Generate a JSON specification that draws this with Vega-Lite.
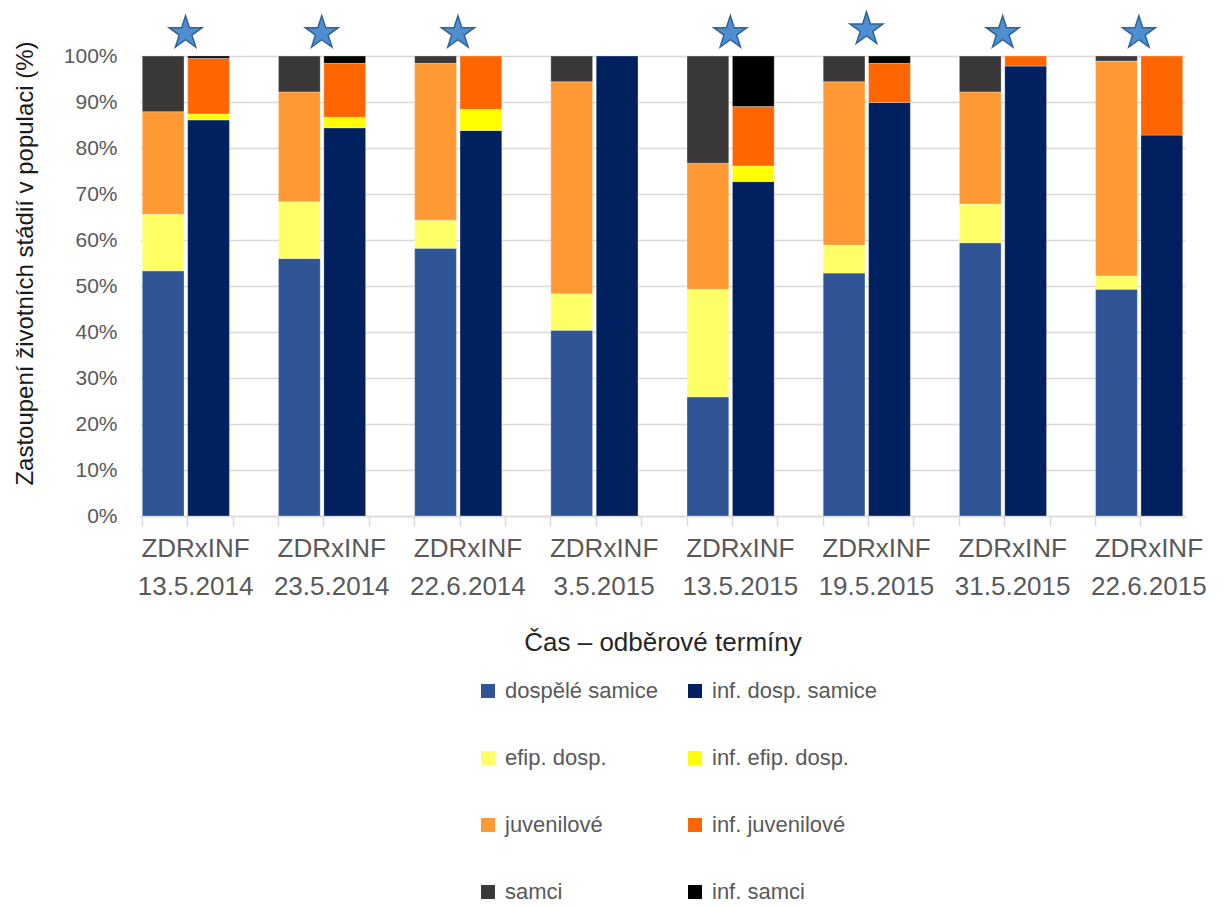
{
  "$schema": "https://vega.github.io/schema/vega-lite/v6.json",
  "width": 1045,
  "height": 460,
  "autosize": "none",
  "padding": {"left": 140, "top": 56, "right": 38, "bottom": 391},
  "background": "white",
  "config": {"view": {"stroke": null}, "font": "Liberation Sans"},
  "layer": [
    {
      "data": {"values": [
        {"slot": "13.5.2014|ZDR", "stadium": "dospělé samice", "podil": 53.3},
        {"slot": "13.5.2014|ZDR", "stadium": "efip. dosp.", "podil": 12.3},
        {"slot": "13.5.2014|ZDR", "stadium": "juvenilové", "podil": 22.3},
        {"slot": "13.5.2014|ZDR", "stadium": "samci", "podil": 12.1},
        {"slot": "13.5.2014|INF", "stadium": "inf. dosp. samice", "podil": 86.1},
        {"slot": "13.5.2014|INF", "stadium": "inf. efip. dosp.", "podil": 1.3},
        {"slot": "13.5.2014|INF", "stadium": "inf. juvenilové", "podil": 12.1},
        {"slot": "13.5.2014|INF", "stadium": "inf. samci", "podil": 0.5},
        {"slot": "23.5.2014|ZDR", "stadium": "dospělé samice", "podil": 56.0},
        {"slot": "23.5.2014|ZDR", "stadium": "efip. dosp.", "podil": 12.3},
        {"slot": "23.5.2014|ZDR", "stadium": "juvenilové", "podil": 23.9},
        {"slot": "23.5.2014|ZDR", "stadium": "samci", "podil": 7.8},
        {"slot": "23.5.2014|INF", "stadium": "inf. dosp. samice", "podil": 84.4},
        {"slot": "23.5.2014|INF", "stadium": "inf. efip. dosp.", "podil": 2.3},
        {"slot": "23.5.2014|INF", "stadium": "inf. juvenilové", "podil": 11.7},
        {"slot": "23.5.2014|INF", "stadium": "inf. samci", "podil": 1.6},
        {"slot": "22.6.2014|ZDR", "stadium": "dospělé samice", "podil": 58.2},
        {"slot": "22.6.2014|ZDR", "stadium": "efip. dosp.", "podil": 6.1},
        {"slot": "22.6.2014|ZDR", "stadium": "juvenilové", "podil": 34.1},
        {"slot": "22.6.2014|ZDR", "stadium": "samci", "podil": 1.6},
        {"slot": "22.6.2014|INF", "stadium": "inf. dosp. samice", "podil": 83.8},
        {"slot": "22.6.2014|INF", "stadium": "inf. efip. dosp.", "podil": 4.6},
        {"slot": "22.6.2014|INF", "stadium": "inf. juvenilové", "podil": 11.6},
        {"slot": "3.5.2015|ZDR", "stadium": "dospělé samice", "podil": 40.4},
        {"slot": "3.5.2015|ZDR", "stadium": "efip. dosp.", "podil": 7.9},
        {"slot": "3.5.2015|ZDR", "stadium": "juvenilové", "podil": 46.1},
        {"slot": "3.5.2015|ZDR", "stadium": "samci", "podil": 5.6},
        {"slot": "3.5.2015|INF", "stadium": "inf. dosp. samice", "podil": 100},
        {"slot": "13.5.2015|ZDR", "stadium": "dospělé samice", "podil": 25.9},
        {"slot": "13.5.2015|ZDR", "stadium": "efip. dosp.", "podil": 23.4},
        {"slot": "13.5.2015|ZDR", "stadium": "juvenilové", "podil": 27.4},
        {"slot": "13.5.2015|ZDR", "stadium": "samci", "podil": 23.3},
        {"slot": "13.5.2015|INF", "stadium": "inf. dosp. samice", "podil": 72.7},
        {"slot": "13.5.2015|INF", "stadium": "inf. efip. dosp.", "podil": 3.4},
        {"slot": "13.5.2015|INF", "stadium": "inf. juvenilové", "podil": 12.9},
        {"slot": "13.5.2015|INF", "stadium": "inf. samci", "podil": 11.0},
        {"slot": "19.5.2015|ZDR", "stadium": "dospělé samice", "podil": 52.8},
        {"slot": "19.5.2015|ZDR", "stadium": "efip. dosp.", "podil": 6.1},
        {"slot": "19.5.2015|ZDR", "stadium": "juvenilové", "podil": 35.5},
        {"slot": "19.5.2015|ZDR", "stadium": "samci", "podil": 5.6},
        {"slot": "19.5.2015|INF", "stadium": "inf. dosp. samice", "podil": 89.9},
        {"slot": "19.5.2015|INF", "stadium": "inf. juvenilové", "podil": 8.5},
        {"slot": "19.5.2015|INF", "stadium": "inf. samci", "podil": 1.6},
        {"slot": "31.5.2015|ZDR", "stadium": "dospělé samice", "podil": 59.4},
        {"slot": "31.5.2015|ZDR", "stadium": "efip. dosp.", "podil": 8.4},
        {"slot": "31.5.2015|ZDR", "stadium": "juvenilové", "podil": 24.4},
        {"slot": "31.5.2015|ZDR", "stadium": "samci", "podil": 7.8},
        {"slot": "31.5.2015|INF", "stadium": "inf. dosp. samice", "podil": 97.8},
        {"slot": "31.5.2015|INF", "stadium": "inf. juvenilové", "podil": 2.2},
        {"slot": "22.6.2015|ZDR", "stadium": "dospělé samice", "podil": 49.3},
        {"slot": "22.6.2015|ZDR", "stadium": "efip. dosp.", "podil": 2.9},
        {"slot": "22.6.2015|ZDR", "stadium": "juvenilové", "podil": 46.7},
        {"slot": "22.6.2015|ZDR", "stadium": "samci", "podil": 1.1},
        {"slot": "22.6.2015|INF", "stadium": "inf. dosp. samice", "podil": 82.8},
        {"slot": "22.6.2015|INF", "stadium": "inf. juvenilové", "podil": 17.2}
      ]},
      "transform": [
        {"calculate": "indexof(['dospělé samice','inf. dosp. samice','efip. dosp.','inf. efip. dosp.','juvenilové','inf. juvenilové','samci','inf. samci'], datum.stadium)", "as": "poradi"}
      ],
      "mark": {"type": "bar", "stroke": "#ffffff", "strokeWidth": 0.6, "strokeOpacity": 0.5},
      "encoding": {
        "x": {
          "field": "slot", "type": "nominal",
          "title": "Čas – odběrové termíny",
          "scale": {
            "domain": ["13.5.2014|ZDR","13.5.2014|INF","13.5.2014|gap","23.5.2014|ZDR","23.5.2014|INF","23.5.2014|gap","22.6.2014|ZDR","22.6.2014|INF","22.6.2014|gap","3.5.2015|ZDR","3.5.2015|INF","3.5.2015|gap","13.5.2015|ZDR","13.5.2015|INF","13.5.2015|gap","19.5.2015|ZDR","19.5.2015|INF","19.5.2015|gap","31.5.2015|ZDR","31.5.2015|INF","31.5.2015|gap","22.6.2015|ZDR","22.6.2015|INF"],
            "paddingInner": 0.08, "paddingOuter": 0.05
          },
          "axis": {
            "labelExpr": "indexof(datum.value, '|INF') > 0 ? ['ZDRxINF', split(datum.value, '|')[0]] : ''",
            "bandPosition": 0,
            "labelAngle": 0,
            "labelOffset": -13,
            "labelFontSize": 26,
            "labelColor": "#595959",
            "labelLineHeight": 38,
            "labelPadding": 9,
            "labelOverlap": false,
            "labelBound": false,
            "tickColor": "#D9D9D9",
            "tickSize": 10,
            "tickWidth": 1.5,
            "domainColor": "#D9D9D9",
            "domainWidth": 1.5,
            "titleFontSize": 26,
            "titleFontWeight": "normal",
            "titleColor": "#262626",
            "titlePadding": 30
          }
        },
        "y": {
          "field": "podil", "type": "quantitative", "stack": "zero",
          "title": "Zastoupení životních stádií v populaci (%)",
          "scale": {"domain": [0, 100], "nice": false},
          "axis": {
            "values": [0, 10, 20, 30, 40, 50, 60, 70, 80, 90, 100],
            "labelExpr": "datum.value + '%'",
            "grid": true,
            "gridColor": "#D9D9D9",
            "gridWidth": 1.5,
            "domain": false,
            "ticks": false,
            "labelFontSize": 21,
            "labelColor": "#595959",
            "labelPadding": 23,
            "titleFontSize": 24,
            "titleFontWeight": "normal",
            "titleColor": "#1a1a1a",
            "titlePadding": 26,
            "titleY": 207
          }
        },
        "color": {
          "field": "stadium", "type": "nominal",
          "scale": {
            "domain": ["dospělé samice","inf. dosp. samice","efip. dosp.","inf. efip. dosp.","juvenilové","inf. juvenilové","samci","inf. samci"],
            "range": ["#2F5597","#002060","#FFFF66","#FFFF00","#FF9933","#FF6600","#3A3838","#000000"]
          },
          "legend": {
            "orient": "none",
            "direction": "horizontal",
            "legendX": 337,
            "legendY": 624,
            "columns": 2,
            "title": null,
            "symbolType": "square",
            "symbolSize": 196,
            "symbolStrokeWidth": 0,
            "labelFontSize": 22,
            "labelColor": "#595959",
            "labelOffset": 6,
            "labelLimit": 400,
            "rowPadding": 45,
            "columnPadding": 26,
            "padding": 0
          }
        },
        "order": {"field": "poradi", "sort": "ascending"}
      }
    },
    {
      "data": {"values": [
        {"slot": "13.5.2014|INF", "podil": 105},
        {"slot": "23.5.2014|INF", "podil": 105},
        {"slot": "22.6.2014|INF", "podil": 105},
        {"slot": "13.5.2015|INF", "podil": 105},
        {"slot": "19.5.2015|INF", "podil": 105.8},
        {"slot": "31.5.2015|INF", "podil": 105},
        {"slot": "22.6.2015|INF", "podil": 105}
      ]},
      "mark": {
        "type": "point",
        "shape": "M0,-1L0.2245,-0.309L0.951,-0.309L0.363,0.118L0.588,0.809L0,0.382L-0.588,0.809L-0.363,0.118L-0.951,-0.309L-0.2245,-0.309Z",
        "filled": true,
        "fill": "#4F8ED0",
        "stroke": "#2E6497",
        "strokeWidth": 1.5,
        "size": 1200,
        "opacity": 1
      },
      "encoding": {
        "x": {"field": "slot", "type": "nominal", "bandPosition": -0.05, "title": "Čas – odběrové termíny"},
        "y": {"field": "podil", "type": "quantitative", "title": "Zastoupení životních stádií v populaci (%)"}
      }
    }
  ]
}
